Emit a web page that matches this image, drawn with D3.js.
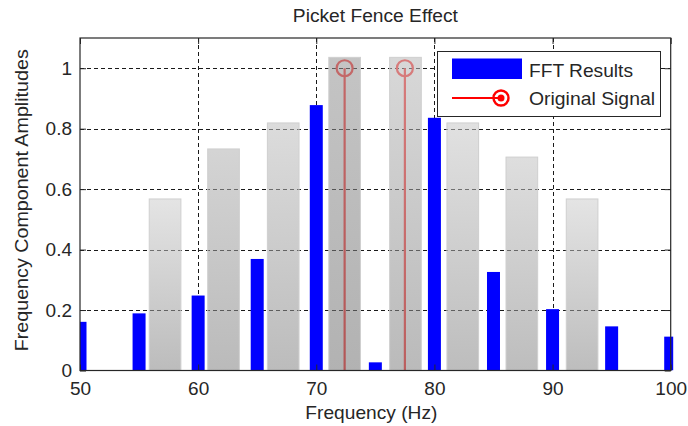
<!DOCTYPE html>
<html>
<head>
<meta charset="utf-8">
<script src="https://cdn.jsdelivr.net/npm/d3@7/dist/d3.min.js"></script>
<style>
  html, body { margin: 0; padding: 0; background: #fff; }
  svg { display: block; }
  text { font-family: "Liberation Sans", Arial, sans-serif; fill: #262626; }
</style>
</head>
<body>
<svg id="chart" width="688" height="426"></svg>
<script>
// FFT bins (Hz) and their magnitudes
const fftFreqs = [50, 55, 60, 65, 70, 75, 80, 85, 90, 95, 100];
const fftAmps  = [0.161, 0.189, 0.248, 0.369, 0.878, 0.027, 0.836, 0.326, 0.203, 0.146, 0.112];

// "picket" bands drawn behind the spectrum
const fenceFreqs = [57.2, 62.15, 67.2, 72.4, 77.55, 82.4, 87.4, 92.5];
const fenceAmps  = [0.5675, 0.733, 0.819, 1.036, 1.036, 0.819, 0.706, 0.5675];

// the two true tones of the signal
const signalFreqs = [72.4, 77.5];
const signalAmps  = [1, 1];

// axis ticks
const xTicks = [50, 60, 70, 80, 90, 100];
const xTickLabels = ["50", "60", "70", "80", "90", "100"];
const yTicks = [0, 0.2, 0.4, 0.6, 0.8, 1];
const yTickLabels = ["0", "0.2", "0.4", "0.6", "0.8", "1"];

// ---- styling ----
const W = 688, H = 426;
const plot = { left: 80, right: 670.7, top: 38, bottom: 370.5 };
const fenceAlpha = 0.55;
// apparent grey level (over white) at top / bottom of each band
const fenceTop    = [228, 212, 220, 196, 216, 225, 222, 228];
const fenceBottom = [188, 186, 188, 178, 186, 189, 189, 189];

const svg = d3.select("#chart");
const x = d3.scaleLinear().domain([50, 100]).range([plot.left, plot.right]);
const y = d3.scaleLinear().domain([0, 1.1]).range([plot.bottom, plot.top]);

const defs = svg.append("defs");
defs.append("clipPath").attr("id", "barclip")
  .append("rect")
  .attr("x", plot.left).attr("y", plot.top - 5)
  .attr("width", plot.right - plot.left + 2.5)
  .attr("height", plot.bottom - plot.top + 5);

// level needed under the given alpha to look like `app` over white
const fillLevel = app => Math.round(Math.max(0, (app - 255 * (1 - fenceAlpha)) / fenceAlpha));
fenceFreqs.forEach((f, i) => {
  const g = defs.append("linearGradient").attr("id", "fence" + i)
    .attr("x1", 0).attr("y1", 0).attr("x2", 0).attr("y2", 1);
  const t = fillLevel(fenceTop[i]), b = fillLevel(fenceBottom[i]);
  g.append("stop").attr("offset", "0%").attr("stop-color", d3.rgb(t, t, t));
  g.append("stop").attr("offset", "100%").attr("stop-color", d3.rgb(b, b, b));
});

// white plotting area
svg.append("rect")
  .attr("x", plot.left).attr("y", plot.top)
  .attr("width", plot.right - plot.left).attr("height", plot.bottom - plot.top)
  .attr("fill", "#fff");

// dashed grid
const grid = svg.append("g").attr("stroke", "#1a1a1a").attr("stroke-width", 1)
  .attr("stroke-dasharray", "4,3").attr("shape-rendering", "crispEdges");
grid.selectAll("line.gx").data(xTicks.slice(1, -1)).join("line")
  .attr("x1", d => Math.round(x(d)) + 0.5).attr("x2", d => Math.round(x(d)) + 0.5)
  .attr("y1", plot.top).attr("y2", plot.bottom);
grid.selectAll("line.gy").data(yTicks.slice(1)).join("line")
  .attr("x1", plot.left).attr("x2", plot.right)
  .attr("y1", d => Math.round(y(d)) + 0.5).attr("y2", d => Math.round(y(d)) + 0.5);

// true signal stems (seen through the translucent bands)
const stemColor = "#ff3434";
const stems = svg.append("g");
stems.selectAll("line").data(signalFreqs).join("line")
  .attr("x1", d => x(d)).attr("x2", d => x(d))
  .attr("y1", y(0)).attr("y2", (d, i) => y(signalAmps[i]))
  .attr("stroke", stemColor).attr("stroke-width", 2.2);
stems.selectAll("circle").data(signalFreqs).join("circle")
  .attr("cx", d => x(d)).attr("cy", (d, i) => y(signalAmps[i]))
  .attr("r", 8).attr("fill", "none")
  .attr("stroke", stemColor).attr("stroke-width", 2.2);

// translucent fence bands
const fenceW = 2.68;
svg.append("g").selectAll("rect").data(fenceFreqs).join("rect")
  .attr("x", d => x(d - fenceW / 2))
  .attr("width", x(fenceW) - x(0))
  .attr("y", (d, i) => y(fenceAmps[i]))
  .attr("height", (d, i) => y(0) - y(fenceAmps[i]))
  .attr("fill", (d, i) => `url(#fence${i})`)
  .attr("fill-opacity", fenceAlpha)
  .attr("stroke", "#cfcfcf").attr("stroke-width", 1);

// FFT magnitude bars
const barW = 1.1;
svg.append("g").attr("clip-path", "url(#barclip)")
  .selectAll("rect").data(fftFreqs).join("rect")
  .attr("x", d => x(d - barW / 2))
  .attr("width", x(barW) - x(0))
  .attr("y", (d, i) => y(fftAmps[i]))
  .attr("height", (d, i) => y(0) - y(fftAmps[i]))
  .attr("fill", "#0000ff");

// axes: ticks point inward on all four sides
const tickFont = "19px";
const axB = svg.append("g").attr("transform", `translate(0,${plot.bottom})`)
  .call(d3.axisBottom(x).tickValues(xTicks).tickSizeInner(-6).tickSizeOuter(0)
    .tickPadding(11).tickFormat((d, i) => xTickLabels[i]));
const axT = svg.append("g").attr("transform", `translate(0,${plot.top})`)
  .call(d3.axisTop(x).tickValues(xTicks).tickSizeInner(-6).tickSizeOuter(0).tickFormat(""));
const axL = svg.append("g").attr("transform", `translate(${plot.left},0)`)
  .call(d3.axisLeft(y).tickValues(yTicks).tickSizeInner(-6).tickSizeOuter(0)
    .tickPadding(8).tickFormat((d, i) => yTickLabels[i]));
const axR = svg.append("g").attr("transform", `translate(${plot.right},0)`)
  .call(d3.axisRight(y).tickValues(yTicks).tickSizeInner(-6).tickSizeOuter(0).tickFormat(""));
[axB, axT, axL, axR].forEach(a => {
  a.select(".domain").remove();
  a.selectAll(".tick line").attr("stroke", "#262626");
  a.selectAll("text").attr("font-size", tickFont)
    .attr("font-family", "Liberation Sans, Arial, sans-serif").attr("fill", "#262626");
});

// frame
svg.append("rect")
  .attr("x", plot.left).attr("y", plot.top)
  .attr("width", plot.right - plot.left).attr("height", plot.bottom - plot.top)
  .attr("fill", "none").attr("stroke", "#262626").attr("stroke-width", 1.2);

// titles
svg.append("text").attr("x", (plot.left + plot.right) / 2).attr("y", 22)
  .attr("text-anchor", "middle").attr("font-size", "18px")
  .attr("textLength", 165).attr("lengthAdjust", "spacingAndGlyphs")
  .text("Picket Fence Effect");
svg.append("text").attr("x", (plot.left + plot.right) / 2 - 4).attr("y", 419)
  .attr("text-anchor", "middle").attr("font-size", "18.5px")
  .attr("textLength", 132).attr("lengthAdjust", "spacingAndGlyphs")
  .text("Frequency (Hz)");
svg.append("text")
  .attr("transform", `translate(28,${(plot.top + plot.bottom) / 2 - 4}) rotate(-90)`)
  .attr("text-anchor", "middle").attr("font-size", "18.5px")
  .attr("textLength", 302).attr("lengthAdjust", "spacingAndGlyphs")
  .text("Frequency Component Amplitudes");

// legend
const lg = svg.append("g");
lg.append("rect").attr("x", 437.5).attr("y", 51.5).attr("width", 223).attr("height", 65)
  .attr("fill", "#fff").attr("stroke", "#262626").attr("stroke-width", 1);
lg.append("rect").attr("x", 452).attr("y", 58.5).attr("width", 70).attr("height", 20.5)
  .attr("fill", "#0000ff");
lg.append("text").attr("x", 529).attr("y", 76.5).attr("font-size", "18.5px")
  .attr("textLength", 104).attr("lengthAdjust", "spacingAndGlyphs").text("FFT Results");
lg.append("line").attr("x1", 452).attr("x2", 501).attr("y1", 98).attr("y2", 98)
  .attr("stroke", "#ff0000").attr("stroke-width", 2);
lg.append("circle").attr("cx", 501).attr("cy", 98).attr("r", 7.5)
  .attr("fill", "none").attr("stroke", "#ff0000").attr("stroke-width", 2.4);
lg.append("circle").attr("cx", 501).attr("cy", 98).attr("r", 3.5).attr("fill", "#ff0000");
lg.append("text").attr("x", 529).attr("y", 104.5).attr("font-size", "18.5px")
  .attr("textLength", 126).attr("lengthAdjust", "spacingAndGlyphs").text("Original Signal");
</script>
</body>
</html>
